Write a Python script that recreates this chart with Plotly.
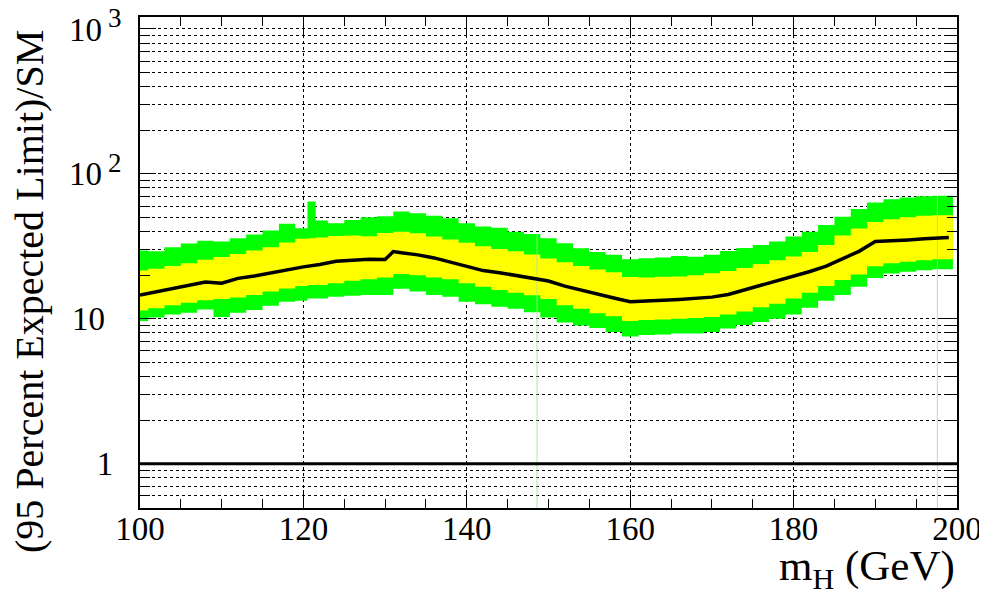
import math
import plotly.graph_objects as go

# ---------------- data ----------------
band_edges = [100, 101, 103, 105, 107, 109, 111, 113, 115, 117, 119, 120.5, 121.5,
              123, 125, 127, 129, 131, 133, 135, 137, 139, 141, 143, 145, 147, 149,
              151, 153, 155, 157, 159, 161, 163, 165, 167, 169, 171, 173, 175, 177,
              179, 181, 183, 185, 187, 189, 191, 193, 195, 197, 199.5]

upper2 = [29.6, 29.2, 31.1, 33.1, 34.6, 34.1, 36.0, 38.1, 40.7, 45.2, 42.2, 64.4,
          47.6, 45.7, 48.1, 50.2, 51.0, 54.9, 53.5, 51.3, 49.4, 45.7,
          43.3, 42.4, 39.9, 38.5, 36.0, 33.2, 30.7, 28.9, 27.6, 25.7,
          26.2, 26.5, 27.1, 26.8, 27.6, 29.4, 30.8, 32.3, 34.1, 36.9,
          39.9, 44.4, 50.5, 57.3, 63.5, 66.9, 68.8, 70.2, 70.5]

upper1 = [21.5, 22.1, 23.1, 24.2, 25.5, 26.7, 28.0, 29.6, 31.2, 33.6, 35.6, 36.0,
          36.4, 37.3, 37.5, 37.1, 39.1, 39.9, 38.9, 36.9, 35.3, 33.4,
          31.6, 30.3, 29.2, 27.8, 26.1, 24.5, 23.1, 21.9, 20.9, 19.4,
          19.3, 19.5, 19.6, 20.0, 20.6, 21.4, 22.4, 23.9, 25.3, 26.9,
          28.9, 32.3, 37.6, 42.0, 46.6, 48.6, 50.1, 51.3, 51.9]

lower1 = [11.4, 11.8, 12.4, 12.9, 13.4, 13.7, 14.0, 14.6, 15.4, 16.2, 16.8, 17.1,
          17.1, 17.6, 18.3, 18.7, 19.3, 20.4, 20.0, 19.3, 18.7, 17.6,
          16.6, 15.8, 15.1, 14.5, 13.7, 12.4, 11.7, 10.9, 10.4, 9.65,
          9.8, 9.9, 10.0, 10.1, 10.3, 10.7, 11.2, 12.0, 12.7, 13.8,
          15.1, 16.8, 18.5, 20.2, 23.0, 24.2, 24.7, 25.3, 25.7]

lower2 = [9.65, 10.2, 10.7, 11.0, 11.6, 10.3, 11.0, 11.5, 12.3, 13.1, 13.3, 13.8,
          13.8, 14.2, 14.4, 14.6, 14.6, 16.1, 15.4, 14.6, 14.2, 13.1,
          12.6, 12.1, 11.7, 11.1, 10.2, 9.42, 8.98, 8.63, 8.10, 7.54,
          7.72, 7.78, 7.91, 7.91, 8.10, 8.56, 9.05, 9.50, 10.0, 10.7,
          11.9, 13.3, 14.6, 16.6, 19.1, 20.5, 21.1, 21.6, 22.0]

median_mass = [100, 102, 104, 106, 108, 110, 112, 114, 116, 118, 120, 122, 124, 126,
               128, 130, 131, 132, 134, 136, 138, 140, 142, 144, 146, 148, 150, 152,
               154, 156, 158, 160, 162, 164, 166, 168, 170, 172, 174, 176, 178, 180,
               182, 184, 186, 188, 190, 192, 194, 196, 198, 199]
median = [14.6, 15.4, 16.2, 17.0, 17.9, 17.6, 19.0, 19.7, 20.7, 21.9, 22.8, 23.7,
          24.9, 25.3, 25.7, 25.6, 29.1, 28.5, 27.6, 26.3, 24.7, 23.0, 21.5, 20.8,
          19.9, 19.1, 18.2, 16.8, 15.7, 14.7, 13.9, 13.1, 13.2, 13.4, 13.6, 13.8,
          14.1, 14.7, 15.8, 17.0, 18.2, 19.6, 21.2, 23.1, 25.9, 29.2, 34.1, 34.4,
          35.0, 35.6, 36.1, 36.4]

spike_mass = [148.6, 197.6]
spike_top = [38.5, 70.5]

sm_line_x = [100, 200]
sm_line_y = [1, 1]

x_ticks = [100, 120, 140, 160, 180, 200]
y_ticks = [1, 10, 100, 1000]
NB = "\u00a0"
y_ticktext = ["1" + NB * 1, "10" + NB * 2,
              "10<sup> <span style='font-size:27px'>2</span></sup>",
              "10<sup> <span style='font-size:27px'>3</span></sup>"]

y_min, y_max = 0.494, 1210.0

GREEN = "#00ff00"
YELLOW = "#ffff00"
FONT = "Liberation Serif, Times New Roman, DejaVu Serif, serif"

# ---------------- figure ----------------
def stepped(vals):
    return list(vals) + [vals[-1]]

fig = go.Figure()

fig.add_trace(go.Scatter(x=band_edges, y=stepped(lower2), mode="lines",
                         line=dict(width=0, shape="hv", color=GREEN),
                         showlegend=False, hoverinfo="skip"))
fig.add_trace(go.Scatter(x=band_edges, y=stepped(upper2), mode="lines",
                         line=dict(width=0, shape="hv", color=GREEN),
                         fill="tonexty", fillcolor=GREEN,
                         showlegend=False, hoverinfo="skip"))
fig.add_trace(go.Scatter(x=band_edges, y=stepped(lower1), mode="lines",
                         line=dict(width=0, shape="hv", color=YELLOW),
                         showlegend=False, hoverinfo="skip"))
fig.add_trace(go.Scatter(x=band_edges, y=stepped(upper1), mode="lines",
                         line=dict(width=0, shape="hv", color=YELLOW),
                         fill="tonexty", fillcolor=YELLOW,
                         showlegend=False, hoverinfo="skip"))

for sx, st in zip(spike_mass, spike_top):
    fig.add_trace(go.Scatter(x=[sx, sx], y=[y_min * 0.9, st], mode="lines",
                             line=dict(width=1, color="rgba(150,235,150,0.9)"),
                             showlegend=False, hoverinfo="skip"))

fig.add_trace(go.Scatter(x=median_mass, y=median, mode="lines",
                         line=dict(width=3.5, color="black"),
                         showlegend=False))

fig.add_trace(go.Scatter(x=sm_line_x, y=sm_line_y, mode="lines",
                         line=dict(width=3, color="black"),
                         showlegend=False, hoverinfo="skip"))

minor_y = [d * 10 ** e for e in range(-1, 3) for d in range(2, 10)]
minor_y = [v for v in minor_y if y_min <= v <= y_max and v not in y_ticks]

# the page body adds an 8 px offset; margins compensate for it
fig.update_layout(
    width=987, height=599,
    margin=dict(l=132, r=38, t=9, b=99, autoexpand=False),
    paper_bgcolor="white", plot_bgcolor="white",
    font=dict(family=FONT, color="black", size=32),
    xaxis=dict(
        range=[100, 200], tickmode="array", tickvals=x_ticks,
        ticks="inside", ticklen=18, tickwidth=1, tickcolor="black",
        showline=True, linecolor="black", linewidth=2, mirror="allticks",
        showgrid=True, gridcolor="black", griddash="dot", gridwidth=1,
        zeroline=False, automargin=False, ticklabeloverflow="allow",
        ticklabelstandoff=-10,
        tickfont=dict(family=FONT, size=33, color="black"),
        minor=dict(dtick=5, ticks="inside", ticklen=9, tickcolor="black",
                   tickwidth=1, showgrid=False),
    ),
    yaxis=dict(
        type="log", range=[math.log10(y_min), math.log10(y_max)],
        tickmode="array", tickvals=y_ticks, ticktext=y_ticktext,
        ticks="inside", ticklen=16, tickwidth=1, tickcolor="black",
        showline=True, linecolor="black", linewidth=2, mirror="allticks",
        showgrid=True, gridcolor="black", griddash="dot", gridwidth=1,
        zeroline=False, automargin=False, ticklabeloverflow="allow",
        ticklabelstandoff=10,
        tickfont=dict(family=FONT, size=33, color="black"),
        minor=dict(tickmode="array", tickvals=minor_y, ticks="inside",
                   ticklen=10, tickcolor="black", tickwidth=1,
                   showgrid=True, gridcolor="black", griddash="dot", gridwidth=1),
    ),
    annotations=[
        dict(text="(95 Percent Expected Limit)/SM", textangle=-90,
             xref="paper", yref="paper", x=0, y=0.44, xshift=-110,
             xanchor="center", yanchor="middle", showarrow=False,
             font=dict(family=FONT, size=40, color="black")),
        dict(text="m<sub>H</sub> (GeV)",
             xref="paper", yref="paper", x=1, y=-0.125,
             xanchor="right", yanchor="middle", showarrow=False,
             font=dict(family=FONT, size=43, color="black")),
    ],
)

fig.write_html("out.html")
